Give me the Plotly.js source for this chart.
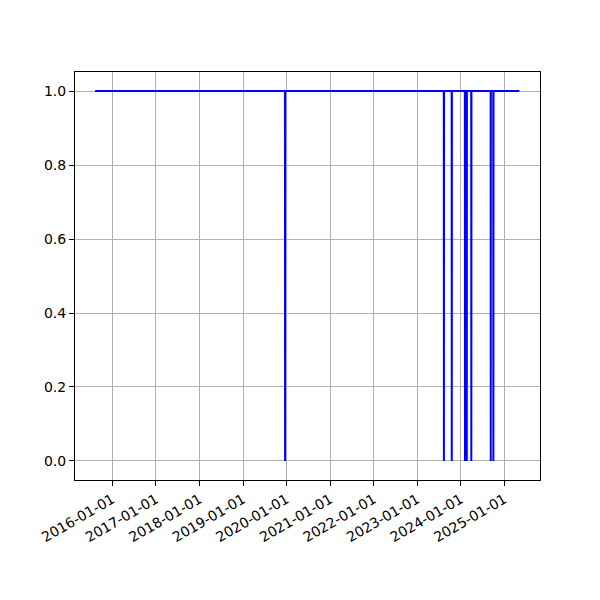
<!DOCTYPE html>
<html>
<head>
<meta charset="utf-8">
<script src="https://cdn.plot.ly/plotly-3.0.1.min.js"></script>
<style>html,body{margin:0;padding:0;background:#fff;}#chart{width:600px;height:600px;}</style>
</head>
<body>
<div id="chart"></div>
<script>
// Series: status is 1, dropping to 0 on single days
const dates = [
  "2015-08-09",
  "2019-12-19", "2019-12-20", "2019-12-21",
  "2023-08-12", "2023-08-13", "2023-08-14",
  "2023-10-17", "2023-10-18", "2023-10-19",
  "2024-02-05", "2024-02-06", "2024-02-07",
  "2024-02-20", "2024-02-21", "2024-02-22",
  "2024-03-29", "2024-03-30", "2024-03-31",
  "2024-09-08", "2024-09-09", "2024-09-10",
  "2024-09-30", "2024-10-01", "2024-10-02",
  "2025-05-07"
];
const values = [
  1,
  1, 0, 1,
  1, 0, 1,
  1, 0, 1,
  1, 0, 1,
  1, 0, 1,
  1, 0, 1,
  1, 0, 1,
  1, 0, 1,
  1
];
const xTickVals = ["2016-01-01","2017-01-01","2018-01-01","2019-01-01","2020-01-01",
                   "2021-01-01","2022-01-01","2023-01-01","2024-01-01","2025-01-01"];
const xTickText = xTickVals.slice();
const yTickVals = [0.0, 0.2, 0.4, 0.6, 0.8, 1.0];

const trace = {
  x: dates,
  y: values,
  type: "scatter",
  mode: "lines",
  line: {color: "#0000ff", width: 2},
  hoverinfo: "skip"
};

const axisCommon = {
  showline: true,
  linecolor: "#000000",
  linewidth: 1,
  mirror: true,
  ticks: "outside",
  ticklen: 5,
  tickwidth: 1,
  tickcolor: "#000000",
  showgrid: true,
  gridcolor: "#b0b0b0",
  gridwidth: 1,
  zeroline: false,
  tickfont: {family: "DejaVu Sans", size: 14, color: "#000000"}
};

const layout = {
  width: 600,
  height: 600,
  margin: {l: 75, r: 60, t: 72, b: 120},
  paper_bgcolor: "#ffffff",
  plot_bgcolor: "#ffffff",
  showlegend: false,
  xaxis: Object.assign({}, axisCommon, {
    type: "date",
    range: ["2015-02-22", "2025-10-27"],
    tickmode: "array",
    tickvals: xTickVals,
    ticktext: xTickText,
    tickangle: -30
  }),
  yaxis: Object.assign({}, axisCommon, {
    range: [-0.0514, 1.0514],
    tickmode: "array",
    tickvals: yTickVals,
    tickformat: ".1f"
  })
};

Plotly.newPlot("chart", [trace], layout, {displayModeBar: false, staticPlot: true});
</script>
</body>
</html>
